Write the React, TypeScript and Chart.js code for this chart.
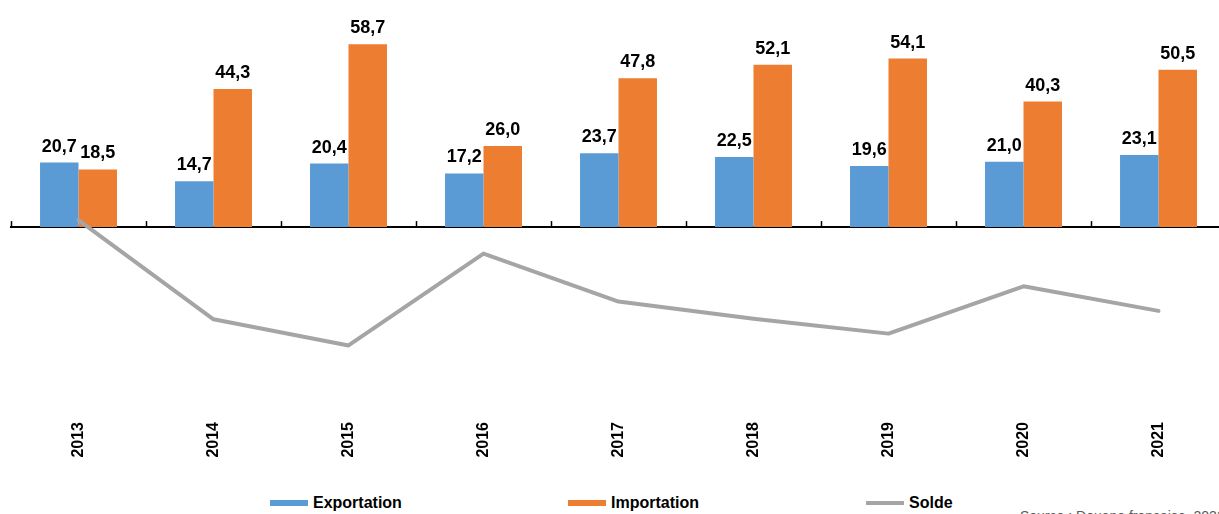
import React, { useEffect, useRef } from "react";
import { Chart, registerables } from "chart.js";

Chart.register(...registerables);

const years = ["2013", "2014", "2015", "2016", "2017", "2018", "2019", "2020", "2021"];
const exportation = [20.7, 14.7, 20.4, 17.2, 23.7, 22.5, 19.6, 21.0, 23.1];
const importation = [18.5, 44.3, 58.7, 26.0, 47.8, 52.1, 54.1, 40.3, 50.5];
const solde = [2.2, -29.6, -38.0, -8.5, -23.9, -29.4, -34.2, -19.0, -26.9];

const BLUE = "#5B9BD5";
const ORANGE = "#ED7D31";
const GRAY = "#A5A5A5";
const FONT = "'Liberation Sans', Arial, sans-serif";

const fmt = (v: number) => v.toFixed(1).replace(".", ",");

const zeroAxisPlugin = {
  id: "zeroAxis",
  beforeDatasetsDraw(chart: any) {
    const { ctx, chartArea, scales } = chart;
    const y0 = scales.y.getPixelForValue(0);
    const xs = scales.x;
    const step = xs.getPixelForValue(1) - xs.getPixelForValue(0);
    ctx.save();
    ctx.strokeStyle = "#000";
    ctx.lineWidth = 2;
    ctx.beginPath();
    ctx.moveTo(chartArea.left - 1, y0);
    ctx.lineTo(chartArea.right, y0);
    ctx.stroke();
    ctx.lineWidth = 1.5;
    for (let i = 0; i <= years.length; i++) {
      const x = Math.round(xs.getPixelForValue(0) - step / 2 + i * step) + 0.5;
      ctx.beginPath();
      ctx.moveTo(x, y0);
      ctx.lineTo(x, y0 - 6);
      ctx.stroke();
    }
    ctx.restore();
  },
};

const barLabelsPlugin = {
  id: "barLabels",
  afterDatasetsDraw(chart: any) {
    const { ctx } = chart;
    ctx.save();
    ctx.font = `bold 18px ${FONT}`;
    ctx.fillStyle = "#000";
    ctx.textAlign = "center";
    ctx.textBaseline = "alphabetic";
    chart.data.datasets.forEach((ds: any, di: number) => {
      if (ds.type !== "bar") return;
      const meta = chart.getDatasetMeta(di);
      meta.data.forEach((el: any, i: number) => {
        ctx.fillText(fmt(ds.data[i]), el.x, el.y - 11);
      });
    });
    ctx.restore();
  },
};

export default function App() {
  const canvasRef = useRef<HTMLCanvasElement | null>(null);

  useEffect(() => {
    if (!canvasRef.current) return;
    const chart = new Chart(canvasRef.current, {
      type: "bar",
      data: {
        labels: years,
        datasets: [
          {
            type: "line",
            label: "Solde",
            data: solde,
            borderColor: GRAY,
            backgroundColor: GRAY,
            borderWidth: 4,
            pointRadius: 0,
            tension: 0,
            borderCapStyle: "round",
            borderJoinStyle: "round",
            order: 0,
          } as any,
          {
            type: "bar",
            label: "Exportation",
            data: exportation,
            backgroundColor: BLUE,
            barPercentage: 1,
            categoryPercentage: 0.57,
            order: 1,
          },
          {
            type: "bar",
            label: "Importation",
            data: importation,
            backgroundColor: ORANGE,
            barPercentage: 1,
            categoryPercentage: 0.57,
            order: 1,
          },
        ],
      },
      options: {
        animation: false,
        responsive: true,
        maintainAspectRatio: false,
        layout: { padding: { left: 11, right: 4, top: 9, bottom: 0 } },
        plugins: {
          legend: { display: false },
          tooltip: { enabled: false },
        },
        scales: {
          x: {
            type: "category",
            grid: { display: false, drawTicks: false },
            border: { display: false },
            ticks: {
              minRotation: 90,
              maxRotation: 90,
              padding: 8,
              color: "#000",
              font: { family: FONT, size: 16, weight: "bold" },
            },
            afterFit: (scale: any) => {
              scale.height = 56;
            },
          },
          y: {
            display: false,
            min: -60,
            max: 70,
          },
        },
      },
      plugins: [zeroAxisPlugin, barLabelsPlugin],
    });
    return () => chart.destroy();
  }, []);

  const legendItems = [
    { label: "Exportation", color: BLUE, left: 270, h: 6 },
    { label: "Importation", color: ORANGE, left: 568, h: 6 },
    { label: "Solde", color: GRAY, left: 866, h: 4 },
  ];

  return (
    <div
      style={{
        position: "fixed",
        left: 0,
        top: 0,
        width: 1219,
        height: 514,
        overflow: "hidden",
        background: "#fff",
        fontFamily: FONT,
      }}
    >
      <div style={{ position: "absolute", left: 0, top: 0, width: 1230, height: 470 }}>
        <canvas ref={canvasRef} />
      </div>
      {legendItems.map((it) => (
        <div
          key={it.label}
          style={{
            position: "absolute",
            left: it.left,
            top: 493,
            height: 20,
            display: "flex",
            alignItems: "center",
            gap: 5,
            whiteSpace: "nowrap",
          }}
        >
          <span style={{ display: "inline-block", width: 38, height: it.h, background: it.color }} />
          <span style={{ fontSize: 16, fontWeight: "bold", color: "#000" }}>{it.label}</span>
        </div>
      ))}
      <div
        style={{
          position: "absolute",
          left: 1020,
          top: 508,
          fontSize: 14,
          lineHeight: "16px",
          color: "#595959",
          whiteSpace: "nowrap",
        }}
      >
        Source : Douane française, 2022
      </div>
    </div>
  );
}
